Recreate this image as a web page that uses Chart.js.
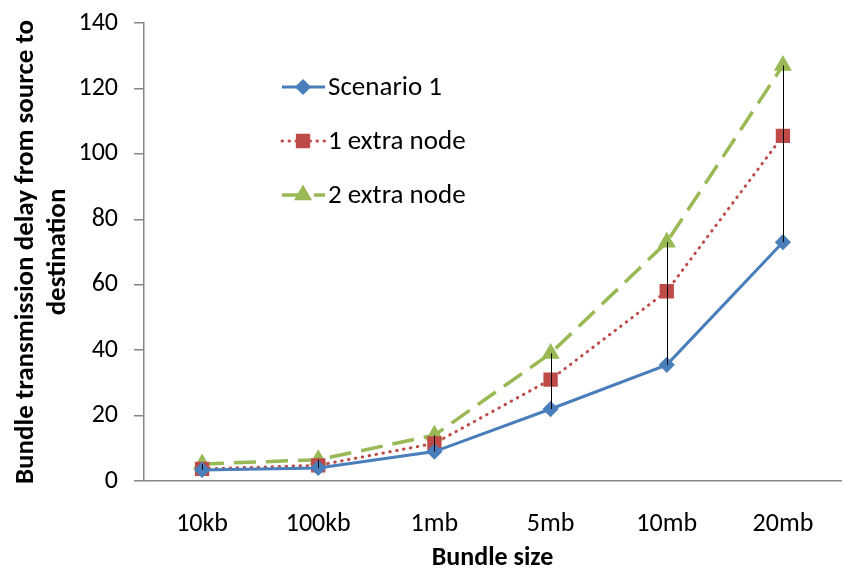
<!DOCTYPE html>
<html>
<head>
<meta charset="utf-8">
<script src="https://cdn.jsdelivr.net/npm/chart.js@4"></script>
<style>
  html, body { margin: 0; padding: 0; background: #fff; overflow: hidden; }
  #wrap { width: 852px; height: 569px; }
</style>
</head>
<body>
<div id="wrap"><canvas id="chart"></canvas></div>
<script>
const sizes = ['10kb', '100kb', '1mb', '5mb', '10mb', '20mb'];
const scenario1 = [3.4, 4, 9, 22, 35.5, 73];
const extraNode1 = [3.7, 4.8, 11.5, 31, 58, 105.5];
const extraNode2 = [5.2, 6.5, 14, 39, 73, 127];
const yTicks = [0, 20, 40, 60, 80, 100, 120, 140];

const FONT = 'Carlito, Calibri, Lato, sans-serif';

// Excel-style high-low lines between the lowest and highest series at each category
const highLowLines = {
  id: 'highLowLines',
  afterDatasetsDraw(chart) {
    const ctx = chart.ctx;
    const x = chart.scales.x, y = chart.scales.y;
    ctx.save();
    ctx.strokeStyle = '#000';
    ctx.lineWidth = 1;
    sizes.forEach((s, i) => {
      const vals = chart.data.datasets.map(d => d.data[i]);
      const px = Math.round(x.getPixelForValue(i)) + 0.5;
      ctx.beginPath();
      ctx.moveTo(px, y.getPixelForValue(Math.min(...vals)));
      ctx.lineTo(px, y.getPixelForValue(Math.max(...vals)));
      ctx.stroke();
    });
    ctx.restore();
  }
};

// legend drawn inside the plot area, vertical list
const innerLegend = {
  id: 'innerLegend',
  afterDraw(chart) {
    const ctx = chart.ctx;
    const area = chart.chartArea;
    const x0 = area.left + 138, y0 = area.top + 64, gap = 54;
    ctx.save();
    chart.data.datasets.forEach((d, i) => {
      const yy = y0 + i * gap;
      ctx.strokeStyle = d.borderColor;
      ctx.lineWidth = d.borderWidth;
      ctx.lineCap = d.borderCapStyle || 'butt';
      ctx.setLineDash(d.borderDash || []);
      ctx.beginPath();
      ctx.moveTo(x0, yy);
      ctx.lineTo(x0 + 43, yy);
      ctx.stroke();
      ctx.setLineDash([]);
      ctx.fillStyle = d.pointBackgroundColor;
      ctx.strokeStyle = d.pointBorderColor;
      Chart.helpers.drawPoint(ctx, { pointStyle: d.pointStyle, radius: d.pointRadius, borderWidth: 1, rotation: 0 }, x0 + 21, yy);
      ctx.fillStyle = '#000';
      ctx.font = '27px ' + FONT;
      ctx.textBaseline = 'middle';
      ctx.fillText(d.label, x0 + 46, yy + 1);
    });
    ctx.restore();
  }
};

new Chart(document.getElementById('chart'), {
  type: 'line',
  data: {
    labels: sizes,
    datasets: [
      {
        label: 'Scenario 1',
        data: scenario1,
        borderColor: '#4A7EBB',
        borderWidth: 3,
        pointStyle: 'rectRot',
        pointRadius: 6,
        pointBackgroundColor: '#4A7EBB',
        pointBorderColor: '#4A7EBB',
        tension: 0
      },
      {
        label: '1 extra node',
        data: extraNode1,
        borderColor: '#BE4B48',
        borderWidth: 3,
        borderDash: [0.5, 6.5],
        borderCapStyle: 'round',
        pointStyle: 'rect',
        pointRadius: 8,
        pointBackgroundColor: '#BE4B48',
        pointBorderColor: '#BE4B48',
        tension: 0
      },
      {
        label: '2 extra node',
        data: extraNode2,
        borderColor: '#98B954',
        borderWidth: 3.5,
        borderDash: [22, 10],
        pointStyle: 'triangle',
        pointRadius: 7,
        pointBackgroundColor: '#98B954',
        pointBorderColor: '#98B954',
        tension: 0
      }
    ]
  },
  options: {
    responsive: true,
    maintainAspectRatio: false,
    animation: false,
    layout: { padding: { top: 23, right: 0, left: 0, bottom: 0 } },
    plugins: {
      legend: { display: false },
      tooltip: { enabled: false }
    },
    scales: {
      x: {
        offset: true,
        grid: { display: false },
        border: { display: true, color: '#868686', width: 1.5 },
        ticks: { color: '#000', font: { family: FONT, size: 26 }, padding: 20 },
        title: {
          display: true,
          text: 'Bundle size',
          color: '#000',
          font: { family: FONT, size: 26, weight: 'bold' },
          padding: { top: 4, bottom: -5 }
        },
        afterFit(scale) { scale.height = 88; }
      },
      y: {
        min: 0,
        max: 140,
        afterBuildTicks(scale) { scale.ticks = yTicks.map(v => ({ value: v })); },
        grid: { drawOnChartArea: false, drawTicks: true, tickLength: 10, color: '#868686', lineWidth: 1.5 },
        border: { display: true, color: '#868686', width: 1.5 },
        ticks: { color: '#000', font: { family: FONT, size: 26 }, padding: 16 },
        title: {
          display: true,
          text: ['Bundle transmission delay from source to', 'destination'],
          color: '#000',
          font: { family: FONT, size: 27, weight: 'bold', lineHeight: 1.19 },
          padding: { top: 10, bottom: 0 }
        },
        afterFit(scale) {
          scale.width = 144;
          scale.paddingTop = 0;
        }
      }
    }
  },
  plugins: [highLowLines, innerLegend]
});
</script>
</body>
</html>
